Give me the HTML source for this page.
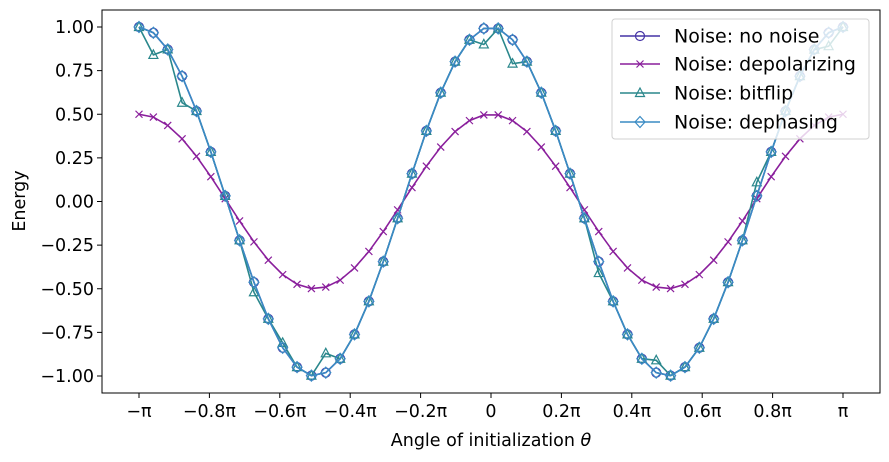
<!DOCTYPE html>
<html><head><meta charset="utf-8"><style>
body{margin:0;background:#fff;}
svg{display:block;font-family:"DejaVu Sans","Liberation Sans",sans-serif;}
</style></head><body>
<svg id="chart" width="889" height="462"></svg>
<script>
const categoryCount = 50;
const noNoise = [1,0.9673,0.8713,0.7183,0.5183,0.2845,0.032,-0.2225,-0.4625,-0.6723,-0.838,-0.949,-0.998,-0.9808,-0.901,-0.7614,-0.5721,-0.3446,-0.096,0.1596,0.4048,0.6235,0.8014,0.9269,0.9918,
0.9918,0.9269,0.8014,0.6235,0.4048,0.1596,-0.096,-0.3446,-0.5721,-0.7614,-0.901,-0.9808,-0.998,-0.949,-0.838,-0.6723,-0.4625,-0.2225,0.032,0.2845,0.5183,0.7183,0.8713,0.9673,1];
const depolarizing = [0.5,0.4837,0.4357,0.3592,0.2592,0.1423,0.016,-0.1113,-0.2313,-0.3362,-0.419,-0.4745,-0.499,-0.4904,-0.4505,-0.3807,-0.2861,-0.1723,-0.048,0.0798,0.2024,0.3118,0.4007,0.4635,0.4959,
0.4959,0.4635,0.4007,0.3118,0.2024,0.0798,-0.048,-0.1723,-0.2861,-0.3807,-0.4505,-0.4904,-0.499,-0.4745,-0.419,-0.3362,-0.2313,-0.1113,0.016,0.1423,0.2592,0.3592,0.4357,0.4837,0.5];
const bitflip = [1,0.84,0.8713,0.566,0.5183,0.2845,0.032,-0.2225,-0.52,-0.6723,-0.81,-0.949,-0.998,-0.87,-0.901,-0.7614,-0.5721,-0.3446,-0.096,0.1596,0.4048,0.6235,0.8014,0.9269,0.90,
0.9918,0.79,0.8014,0.6235,0.4048,0.1596,-0.096,-0.41,-0.5721,-0.7614,-0.901,-0.91,-0.998,-0.949,-0.838,-0.6723,-0.4625,-0.2225,0.11,0.2845,0.5183,0.7183,0.87,0.89,1];
const dephasing = noNoise.slice();
const yTicks = [-1,-0.75,-0.5,-0.25,0,0.25,0.5,0.75,1];
const yTickLabels = ["\u22121.00","\u22120.75","\u22120.50","\u22120.25","0.00","0.25","0.50","0.75","1.00"];
const xTicks = [-1,-0.8,-0.6,-0.4,-0.2,0,0.2,0.4,0.6,0.8,1];
const xTickLabels = ["\u2212\u03c0","\u22120.8\u03c0","\u22120.6\u03c0","\u22120.4\u03c0","\u22120.2\u03c0","0","0.2\u03c0","0.4\u03c0","0.6\u03c0","0.8\u03c0","\u03c0"];
const seriesNames = ["Noise: no noise","Noise: depolarizing","Noise: bitflip","Noise: dephasing"];

const NS="http://www.w3.org/2000/svg";
const svg=document.getElementById('chart');
const L=102,R=880,T=10,B=393;
function xs(f){return 139+(f+1)/2*704;}
function ys(v){return 201.5-v*174.5;}
function mk(tag,attrs,parent){const e=document.createElementNS(NS,tag);for(const k in attrs)e.setAttribute(k,attrs[k]);(parent||svg).appendChild(e);return e;}

const frame=mk('rect',{x:L,y:T,width:R-L,height:B-T,fill:'none',stroke:'#000','stroke-width':1});



yTicks.forEach((v,i)=>{
  const y=ys(v);
  const t=mk('line',{x1:L-5,x2:L,y1:y,y2:y,stroke:'#000'});
  
  
  const tx=mk('text',{x:L-8,y:y+6,'text-anchor':'end','font-size':17.5});
  tx.textContent=yTickLabels[i];
  
  
});
xTicks.forEach((f,i)=>{
  const x=xs(f);
  const t=mk('line',{x1:x,x2:x,y1:B,y2:B+5,stroke:'#000'});
  
  
  const tx=mk('text',{x:x,y:B+24,'text-anchor':'middle','font-size':17.5});
  tx.textContent=xTickLabels[i];
  
  
});
const yl=mk('text',{x:25,y:201,'text-anchor':'middle','font-size':17.5,transform:'rotate(-90 25 201)'});
yl.textContent='Energy';


const xl=mk('text',{x:491,y:446,'text-anchor':'middle','font-size':17.5});
xl.innerHTML='Angle of initialization <tspan font-style="italic">\u03b8</tspan>';



function marker(type,x,y,c,g){
  let e;
  if(type==='o') e=mk('circle',{cx:x,cy:y,r:4.5,fill:'none',stroke:c,'stroke-width':1.2},g);
  else if(type==='x') e=mk('path',{d:`M${x-3.5} ${y-3.5}L${x+3.5} ${y+3.5}M${x-3.5} ${y+3.5}L${x+3.5} ${y-3.5}`,stroke:c,'stroke-width':1.2},g);
  else if(type==='^') e=mk('path',{d:`M${x} ${y-5}L${x+4.5} ${y+3.5}L${x-4.5} ${y+3.5}Z`,fill:'none',stroke:c,'stroke-width':1.2},g);
  else e=mk('path',{d:`M${x} ${y-5.5}L${x+5} ${y}L${x} ${y+5.5}L${x-5} ${y}Z`,fill:'none',stroke:c,'stroke-width':1.2},g);
  
  
}
const series=[[noNoise,'#4534a6','o','series-no-noise'],[depolarizing,'#8a1f9c','x','series-depolarizing'],[bitflip,'#2a878c','^','series-bitflip'],[dephasing,'#3a8bc4','d','series-dephasing']];
series.forEach(([vals,c,m,name])=>{
  const g=mk('g',{});
  
  
  const pts=vals.map((v,k)=>[xs(-1+2*k/(categoryCount-1)),ys(v)]);
  const pl=mk('polyline',{points:pts.map(p=>p.join(',')).join(' '),fill:'none',stroke:c,'stroke-width':1.6},g);
  
  
  pts.forEach(p=>marker(m,p[0],p[1],c,g));
});

const lg=mk('g',{});


mk('rect',{x:612,y:19,width:257,height:120,rx:3,fill:'rgba(255,255,255,0.8)',stroke:'#d0d0d0'},lg);
const ly=[36,64,93,122];
series.forEach(([vals,c,m,name],i)=>{
  const eg=mk('g',{},lg);
  
  
  mk('line',{x1:620,x2:660,y1:ly[i],y2:ly[i],stroke:c,'stroke-width':1.6},eg);
  marker(m,640,ly[i],c,eg);
  const t=mk('text',{x:674,y:ly[i]+6.5,'font-size':19},eg);
  t.textContent=seriesNames[i];
});
</script>
</body></html>
